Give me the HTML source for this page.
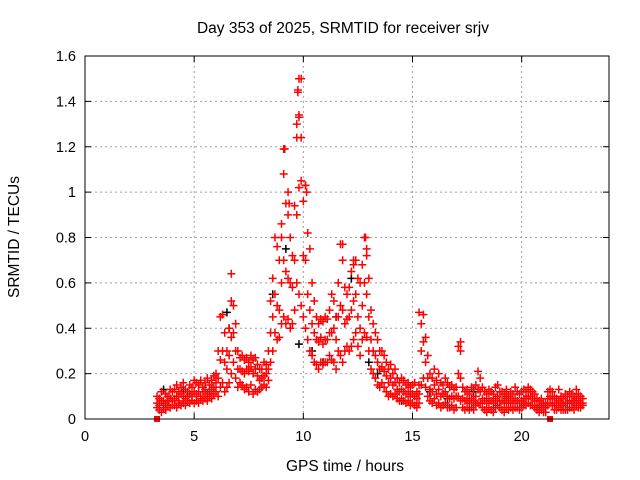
<!DOCTYPE html>
<html><head><meta charset="utf-8"><style>
body{margin:0;background:#fff}
svg{display:block;font-family:"Liberation Sans",sans-serif}
</style></head><body>
<svg id="chart" width="640" height="480" viewBox="0 0 640 480">
<rect width="640" height="480" fill="#fff"/>
<g id="grid"></g>
<g id="axes"></g>
<g id="marks"></g>
<rect x="85" y="56" width="524" height="363" fill="none" stroke="#000" stroke-width="1"/>
<text x="343" y="33" text-anchor="middle" font-size="15.5">Day 353 of 2025, SRMTID for receiver srjv</text>
<text x="345" y="471" text-anchor="middle" font-size="15.5">GPS time / hours</text>
<text transform="translate(19,237) rotate(-90)" text-anchor="middle" font-size="15.5">SRMTID / TECUs</text>
</svg>
<script>
const xTicks=[0,5,10,15,20];
const yTicks=[0,0.2,0.4,0.6,0.8,1,1.2,1.4,1.6];
const yTickLabels=["0","0.2","0.4","0.6","0.8","1","1.2","1.4","1.6"];
const tStart=3.3, tStep=0.1;
const redHi=[0.10,0.09,0.12,0.08,0.11,0.10,0.13,0.12,
0.13,0.15,0.12,0.14,0.16,0.13,0.12,0.15,0.14,0.17,
0.16,0.15,0.17,0.14,0.16,0.18,0.15,0.17,0.19,0.20,
0.30,0.45,0.46,0.38,0.30,0.40,0.52,0.50,0.42,0.30,
0.27,0.28,0.26,0.27,0.25,0.28,0.26,0.27,0.24,0.22,
0.22,0.25,0.24,0.30,0.52,0.62,0.80,0.76,0.70,0.86,
1.19,0.95,0.90,0.80,0.72,0.94,1.24,1.33,1.50,0.96,
1.03,0.82,0.75,0.60,0.52,0.45,0.42,0.44,0.43,0.45,
0.44,0.48,0.55,0.52,0.45,0.60,0.77,0.70,0.58,0.55,
0.58,0.65,0.68,0.70,0.62,0.60,0.68,0.80,0.72,0.62,
0.48,0.42,0.38,0.35,0.30,0.30,0.28,0.25,0.22,0.24,
0.20,0.22,0.18,0.16,0.18,0.17,0.15,0.16,0.14,0.15,
0.16,0.12,0.15,0.42,0.46,0.36,0.28,0.20,0.18,0.22,
0.17,0.20,0.16,0.15,0.18,0.16,0.14,0.15,0.13,0.14,
0.32,0.30,0.14,0.12,0.13,0.11,0.14,0.13,0.15,0.21,
0.18,0.14,0.12,0.11,0.13,0.12,0.11,0.14,0.15,0.12,
0.12,0.11,0.13,0.10,0.12,0.11,0.14,0.12,0.11,0.12,
0.13,0.12,0.14,0.13,0.12,0.11,0.09,0.08,0.09,0.07,
0.07,0.12,0.13,0.12,0.10,0.09,0.13,0.10,0.09,0.11,
0.10,0.12,0.11,0.10,0.13,0.11,0.10,0.09];
const redMid=[0.07,0.06,0.08,0.06,0.07,0.08,0.09,0.08,
0.09,0.10,0.08,0.11,0.10,0.09,0.10,0.11,0.10,0.12,
0.11,0.12,0.10,0.12,0.13,0.11,0.12,0.13,0.14,0.16,
0.18,0.26,0.30,0.25,0.22,0.28,0.36,0.38,0.30,0.22,
0.22,0.21,0.20,0.22,0.21,0.23,0.20,0.22,0.19,0.17,
0.18,0.19,0.20,0.22,0.38,0.45,0.55,0.50,0.48,0.60,
0.70,0.65,0.62,0.60,0.58,0.70,0.90,1.02,1.05,0.72,
0.70,0.55,0.48,0.42,0.38,0.35,0.34,0.36,0.33,0.35,
0.35,0.38,0.38,0.40,0.35,0.45,0.50,0.48,0.42,0.44,
0.45,0.48,0.52,0.55,0.45,0.40,0.50,0.60,0.55,0.45,
0.35,0.30,0.28,0.25,0.22,0.23,0.21,0.19,0.16,0.18,
0.15,0.16,0.13,0.12,0.13,0.12,0.11,0.12,0.10,0.11,
0.10,0.09,0.11,0.30,0.34,0.25,0.18,0.13,0.12,0.15,
0.11,0.13,0.10,0.11,0.12,0.10,0.09,0.10,0.09,0.10,
0.20,0.18,0.09,0.08,0.09,0.07,0.09,0.08,0.10,0.13,
0.12,0.09,0.08,0.07,0.09,0.08,0.07,0.09,0.10,0.08,
0.08,0.07,0.09,0.07,0.08,0.07,0.09,0.08,0.07,0.08,
0.09,0.09,0.10,0.10,0.09,0.08,0.06,0.06,0.06,0.05,
0.05,0.09,0.10,0.09,0.07,0.06,0.08,0.07,0.06,0.07,
0.07,0.08,0.08,0.07,0.09,0.08,0.07,0.07];
const redLo=[0.05,0.04,0.03,0.05,0.04,0.06,0.05,0.06,
0.06,0.05,0.07,0.06,0.07,0.06,0.08,0.07,0.08,0.07,
0.08,0.07,0.09,0.08,0.09,0.08,0.10,0.09,0.11,0.12,
0.10,0.14,0.16,0.12,0.14,0.16,0.20,0.25,0.18,0.14,
0.16,0.15,0.13,0.14,0.12,0.15,0.11,0.13,0.12,0.13,
0.14,0.15,0.14,0.17,0.25,0.30,0.38,0.35,0.36,0.42,
0.45,0.42,0.44,0.40,0.42,0.48,0.60,0.55,0.50,0.45,
0.40,0.35,0.30,0.28,0.25,0.24,0.22,0.25,0.24,0.25,
0.25,0.28,0.26,0.25,0.22,0.30,0.28,0.25,0.30,0.32,
0.30,0.32,0.35,0.38,0.32,0.28,0.35,0.38,0.36,0.30,
0.22,0.20,0.18,0.15,0.14,0.16,0.14,0.12,0.10,0.11,
0.10,0.11,0.09,0.08,0.09,0.08,0.07,0.08,0.06,0.07,
0.06,0.05,0.07,0.15,0.18,0.14,0.10,0.08,0.07,0.09,
0.06,0.07,0.05,0.06,0.07,0.05,0.05,0.06,0.04,0.05,
0.10,0.08,0.05,0.04,0.05,0.04,0.05,0.04,0.06,0.07,
0.07,0.05,0.04,0.03,0.05,0.04,0.03,0.05,0.06,0.05,
0.04,0.03,0.05,0.04,0.05,0.04,0.05,0.05,0.04,0.05,
0.06,0.06,0.07,0.06,0.06,0.05,0.04,0.03,0.04,0.03,
0.03,0.06,0.07,0.06,0.04,0.04,0.05,0.04,0.04,0.04,
0.04,0.05,0.05,0.04,0.06,0.05,0.05,0.06];
const extraT=[6.7,9.75,9.75,9.8,9.8,9.15,9.3,9.9,10.1,10.15,12.85,11.8,15.3,17.2,9.35,9.0,9.7,9.1,12.3,12.9];
const extraV=[0.64,1.45,1.44,1.50,1.34,1.19,1.00,1.24,1.03,1.00,0.80,0.77,0.47,0.34,0.95,0.80,1.30,1.08,0.70,0.75];
const blackT=[3.6,4.5,6.5,6.6,8.6,9.2,9.8,10.4,10.9,11.5,12.2,13.0,13.4,14.5,15.8,16.6,17.8,19.3,20.6,22.4];
const blackV=[0.13,0.12,0.47,0.40,0.55,0.75,0.33,0.30,0.25,0.45,0.62,0.25,0.20,0.08,0.12,0.09,0.12,0.10,0.06,0.08];
const zeroT=[3.3,21.3];
const zeroV=[0,0];

const X0=85,X1=609,Y0=419,Y1=56,XMAX=24,YMAX=1.6;
const sx=t=>X0+(X1-X0)*t/XMAX;
const sy=v=>Y0-(Y0-Y1)*v/YMAX;
const NS="http://www.w3.org/2000/svg";
function mk(tag,attrs,parent){const e=document.createElementNS(NS,tag);for(const k in attrs)e.setAttribute(k,attrs[k]);parent.appendChild(e);return e;}
const grid=document.getElementById('grid'),axes=document.getElementById('axes'),marks=document.getElementById('marks');
xTicks.forEach(t=>{const x=sx(t);
 if(t>0){const g=mk('line',{x1:x,x2:x,y1:Y1,y2:Y0,stroke:'#a0a0a0','stroke-dasharray':'2,3'},grid);
 
 }
 mk('line',{x1:x,x2:x,y1:Y0,y2:Y0-6,stroke:'#000'},axes);
 mk('line',{x1:x,x2:x,y1:Y1,y2:Y1+6,stroke:'#000'},axes);
 const l=mk('text',{x:x,y:Y0+22,'text-anchor':'middle','font-size':'14.5'},axes);l.textContent=t;
 
 
});
yTicks.forEach((v,i)=>{const y=sy(v);
 if(v>0&&v<YMAX){const g=mk('line',{x1:X0,x2:X1,y1:y,y2:y,stroke:'#a0a0a0','stroke-dasharray':'2,3'},grid);
 
 }
 mk('line',{x1:X0,x2:X0+6,y1:y,y2:y,stroke:'#000'},axes);
 mk('line',{x1:X1,x2:X1-6,y1:y,y2:y,stroke:'#000'},axes);
 const l=mk('text',{x:X0-9,y:y+5,'text-anchor':'end','font-size':'14.5'},axes);l.textContent=yTickLabels[i];
 
 
});
function plus(t,v,color,name){const x=sx(t),y=sy(v);
 const p=mk('path',{d:`M${x-4},${y}H${x+4}M${x},${y-4}V${y+4}`,stroke:color,'stroke-width':'1.5',fill:'none'},marks);
 
 }
blackT.forEach((t,i)=>plus(t,blackV[i],'#000','black-point'));
[redHi,redMid,redLo].forEach(arr=>arr.forEach((v,i)=>plus(tStart+i*tStep,v,'#ff0000','red-point')));
extraT.forEach((t,i)=>plus(t,extraV[i],'#ff0000','red-point'));
zeroT.forEach((t,i)=>{const r=mk('rect',{x:sx(t)-3,y:sy(zeroV[i])-3,width:6,height:6,fill:'#ff0000'},marks);
 
 });
</script>
</body></html>
